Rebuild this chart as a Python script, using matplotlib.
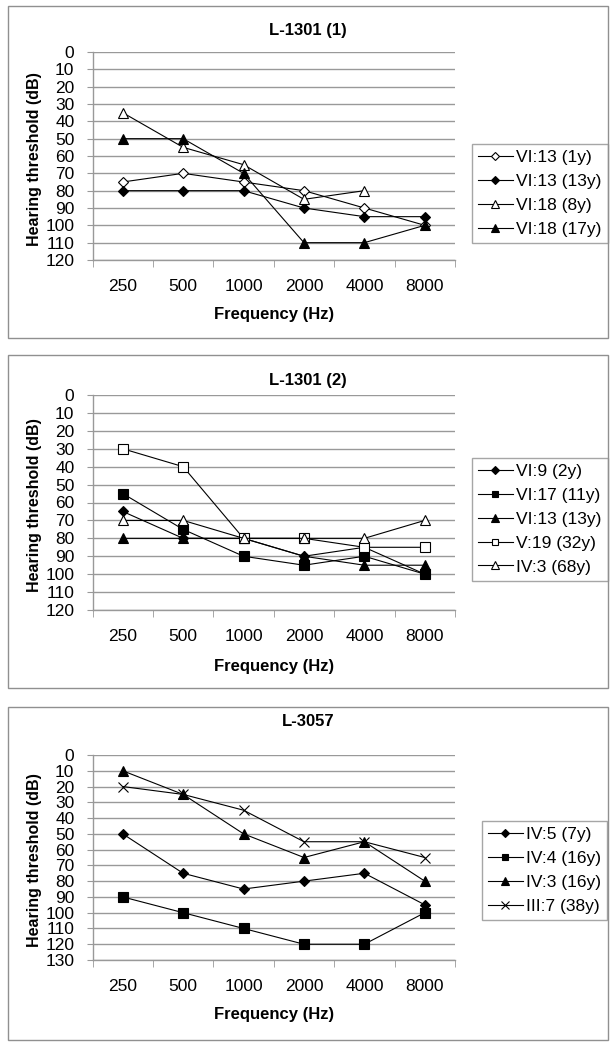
import matplotlib
matplotlib.use('Agg')
import matplotlib.pyplot as plt
from matplotlib.patches import Rectangle
import numpy as np

plt.rcParams['font.family'] = ['Liberation Sans', 'DejaVu Sans']

freqs = ['250', '500', '1000', '2000', '4000', '8000']

# panel 1: L-1301 (1)
p1_title = 'L-1301 (1)'
p1_labels = ['VI:13 (1y)', 'VI:13 (13y)', 'VI:18 (8y)', 'VI:18 (17y)']
p1_vi13_1y = [75, 70, 75, 80, 90, 100]
p1_vi13_13y = [80, 80, 80, 90, 95, 95]
p1_vi18_8y = [35, 55, 65, 85, 80]
p1_vi18_17y = [50, 50, 70, 110, 110, 100]

# panel 2: L-1301 (2)
p2_title = 'L-1301 (2)'
p2_labels = ['VI:9 (2y)', 'VI:17 (11y)', 'VI:13 (13y)', 'V:19 (32y)', 'IV:3 (68y)']
p2_vi9_2y = [65, 80, 80, 90, 85, 100]
p2_vi17_11y = [55, 75, 90, 95, 90, 100]
p2_vi13_13y = [80, 80, 80, 90, 95, 95]
p2_v19_32y = [30, 40, 80, 80, 85, 85]
p2_iv3_68y = [70, 70, 80, 80, 80, 70]

# panel 3: L-3057
p3_title = 'L-3057'
p3_labels = ['IV:5 (7y)', 'IV:4 (16y)', 'IV:3 (16y)', 'III:7 (38y)']
p3_iv5_7y = [50, 75, 85, 80, 75, 95]
p3_iv4_16y = [90, 100, 110, 120, 120, 100]
p3_iv3_16y = [10, 25, 50, 65, 55, 80]
p3_iii7_38y = [20, 25, 35, 55, 55, 65]

W, H = 614, 1050
GRID = '#999999'

# marker styles: (marker, filled, size)
OPEN_D = ('D', False, 5.5)
FILL_D = ('D', True, 5.5)
OPEN_T = ('^', False, 7)
FILL_T = ('^', True, 7)
FILL_S = ('s', True, 6.5)
OPEN_S = ('s', False, 6.5)
CROSS = ('x', True, 7)


def fx(px):
    return px / W


def fy(py):
    return 1 - py / H


def draw_panel(fig, box, ax_box, title, series, styles, labels, ymax, leg_box, ty, xly):
    bx0, by0, bx1, by1 = box
    fig.patches.append(Rectangle((fx(bx0), fy(by1)), fx(bx1 - bx0), (by1 - by0) / H,
                                 transform=fig.transFigure, fill=False,
                                 edgecolor='#909090', linewidth=1.0))
    x0, y0, x1, y1 = ax_box
    ax = fig.add_axes([fx(x0), fy(y1), fx(x1 - x0), (y1 - y0) / H])
    x = np.arange(len(freqs))
    for vals, st, lab in zip(series, styles, labels):
        m, filled, ms = st
        ax.plot(x[:len(vals)], vals, color='black', linewidth=0.8, marker=m,
                markersize=ms, markerfacecolor='black' if filled else 'white',
                markeredgecolor='black', markeredgewidth=0.8, label=lab, zorder=3)
    ax.set_xlim(-0.5, len(freqs) - 0.5)
    ax.set_ylim(ymax, 0)
    ax.set_yticks(np.arange(0, ymax + 1, 10))
    ax.yaxis.grid(True, color=GRID, linewidth=1.0)
    ax.set_axisbelow(True)
    ax.set_xticks(x)
    ax.set_xticklabels(freqs)
    ax.set_xticks(np.arange(-0.5, len(freqs), 1.0), minor=True)
    ax.tick_params(axis='x', which='major', length=0, pad=14, labelsize=12.5)
    ax.tick_params(axis='x', which='minor', length=5, color=GRID, direction='out')
    ax.tick_params(axis='y', length=4, color=GRID, pad=9, labelsize=12.5)
    for s in ['top', 'right']:
        ax.spines[s].set_visible(False)
    for s in ['left', 'bottom']:
        ax.spines[s].set_color(GRID)
        ax.spines[s].set_linewidth(1.0)
    fig.text(fx(308), fy(ty), title, ha='center', va='center',
             fontsize=12, fontweight='bold')
    fig.text(fx((x0 + x1) / 2), fy(xly), 'Frequency (Hz)', ha='center', va='center',
             fontsize=12, fontweight='bold')
    fig.text(fx(35), fy((y0 + y1) / 2 + 3), 'Hearing threshold (dB)', ha='center',
             va='center', rotation=90, fontsize=11.5, fontweight='bold')
    lx0, ly0, lx1, ly1 = leg_box
    leg = ax.legend(loc='upper left', bbox_to_anchor=(fx(lx0), fy(ly0)),
                    bbox_transform=fig.transFigure, borderaxespad=0,
                    fancybox=False, frameon=True, fontsize=12.5, markerscale=0.75,
                    handlelength=2.0, handletextpad=0.2, labelspacing=0.5,
                    borderpad=0.35)
    leg.get_frame().set_edgecolor('#909090')
    leg.get_frame().set_linewidth(1.0)
    return ax


def main():
    fig = plt.figure(figsize=(W / 100, H / 100), dpi=100)
    draw_panel(fig, (8, 6, 608, 338), (92.5, 52, 455, 260), p1_title,
               [p1_vi13_1y, p1_vi13_13y, p1_vi18_8y, p1_vi18_17y],
               [OPEN_D, FILL_D, OPEN_T, FILL_T], p1_labels, 120,
               (472, 144, 604, 244), 30, 315)
    draw_panel(fig, (8, 355, 608, 688), (92.5, 395, 455, 610), p2_title,
               [p2_vi9_2y, p2_vi17_11y, p2_vi13_13y, p2_v19_32y, p2_iv3_68y],
               [FILL_D, FILL_S, FILL_T, OPEN_S, OPEN_T], p2_labels, 120,
               (472, 458, 604, 582), 380, 667)
    draw_panel(fig, (8, 707, 608, 1040), (92.5, 755, 455, 960), p3_title,
               [p3_iv5_7y, p3_iv4_16y, p3_iv3_16y, p3_iii7_38y],
               [FILL_D, FILL_S, FILL_T, CROSS], p3_labels, 130,
               (482, 821, 604, 920), 722, 1015)
    fig.savefig('out.png', dpi=100)


if __name__ == '__main__':
    main()
